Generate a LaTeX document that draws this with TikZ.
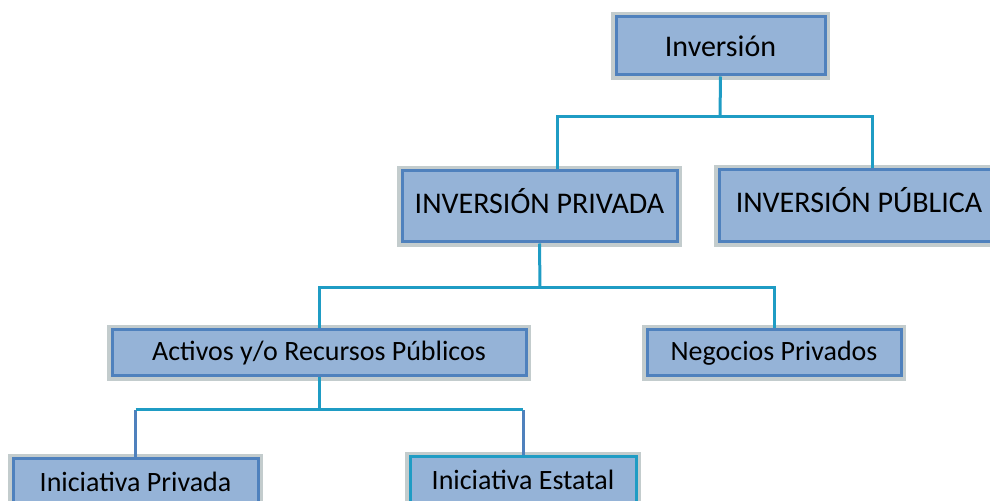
\documentclass[tikz,border=0pt]{standalone}
\usepackage{fontspec}
\setmainfont{Carlito}
\usetikzlibrary{calc}

\definecolor{cajafondo}{HTML}{95B3D7}
\definecolor{cajaborde}{HTML}{4F81BD}
\definecolor{enlaceazul}{HTML}{1F9CC4}
\definecolor{halo}{HTML}{A9B7B8}

\begin{document}
\begin{tikzpicture}[
			x = 0.5pt, y = -0.5pt,
			caja/.style = {draw = cajaborde, fill = cajafondo, line width = 1.5pt, inner sep = 0pt,
				preaction = {draw = halo, line width = 5pt, opacity = 0.7},
				font = \fontsize{15}{18}\selectfont},
			cajachica/.style = {caja, font = \fontsize{14}{17}\selectfont},
			enlace/.style = {draw = enlaceazul, line width = 1.5pt},
			rama/.style = {draw = cajaborde, line width = 1.5pt}]

			\def\px{0.5pt}

			\useasboundingbox (0,0) rectangle (990,501);
			\clip (0,0) rectangle (990,501);

			\node[caja, minimum width = 209*\px, minimum height = 58*\px] (inv) at (720.5,46) {Inversión};
			\node[caja, text depth = 6pt, minimum width = 275*\px, minimum height = 71*\px] (priv) at (539.5,206.5) {INVERSIÓN PRIVADA};
			\node[caja, text depth = 6pt, minimum width = 280*\px, minimum height = 72*\px] (pub) at (859,206) {INVERSIÓN PÚBLICA};

			\node[cajachica, minimum width = 414*\px, minimum height = 46*\px] (act) at (319,353) {Activos y/o Recursos Públicos};
			\node[cajachica, minimum width = 254*\px, minimum height = 46*\px] (neg) at (774,353) {Negocios Privados};

			\node[cajachica, minimum width = 245*\px, minimum height = 46*\px] (inipriv) at (135.5,482) {Iniciativa Privada};
			\node[cajachica, draw = enlaceazul, minimum width = 226*\px, minimum height = 46*\px] (iniest) at (523,480) {Iniciativa Estatal};

			% primer nivel
			\coordinate (n1) at (720,117);
			\draw[enlace] (inv.south) -- (n1);
			\draw[enlace] ($(priv.north)+(17.5,0)$) |- (n1) -| ($(pub.north)+(13,0)$);

			% segundo nivel
			\coordinate (n2) at (540,288);
			\draw[enlace] (priv.south) -- (n2);
			\draw[enlace] (act.north) |- (n2) -| (neg.north);

			% tercer nivel
			\coordinate (n3) at (319,410);
			\draw[enlace] (act.south) -- (n3);
			\draw[rama] (inipriv.north) -- (inipriv.north |- n3);
			\draw[rama] (iniest.north) -- (iniest.north |- n3);
			\draw[enlace] (inipriv.north |- n3) -- (iniest.north |- n3);

		\end{tikzpicture}
\end{document}
